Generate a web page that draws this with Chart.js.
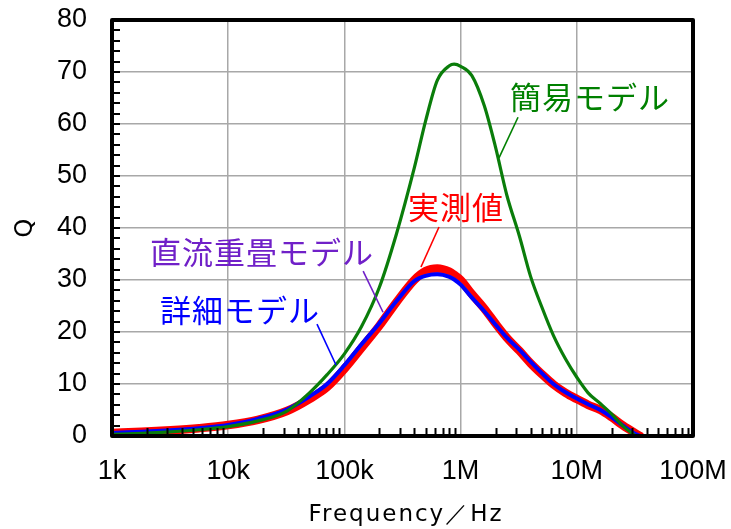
<!DOCTYPE html>
<html>
<head>
<meta charset="utf-8">
<script src="https://cdn.jsdelivr.net/npm/chart.js@4.4.1/dist/chart.umd.min.js"></script>
<style>
  html, body { margin: 0; padding: 0; background: #ffffff; }
  #wrap { width: 731px; height: 529px; }
</style>
</head>
<body>
<div id="wrap"><canvas id="chart" width="731" height="529"></canvas></div>
<script>
// Frequency sweep points (Hz)
const freqHz = [
  1000, 1800, 3200, 5600, 10000, 18000, 32000, 50000, 71000,
  100000, 140000, 200000, 280000, 400000, 500000, 630000, 800000, 880000,
  1000000, 1250000, 1600000, 2000000, 2500000, 3200000, 4000000, 5000000,
  6300000, 8000000, 10000000, 12500000, 16000000, 20000000, 25000000,
  32000000, 35000000
];

// Q factor of each curve at the frequencies above
const qMeasured = [
  0.6, 0.8, 1.1, 1.5, 2.1, 3.1, 4.8, 7.1, 9.4,
  12.9, 16.9, 21.2, 25.7, 30.0, 31.7, 32.2, 31.6, 31.0,
  30.0, 27.3, 24.5, 21.6, 18.9, 16.4, 14.0, 11.9,
  9.9, 8.3, 7.1, 6.0, 5.0, 3.6, 2.0,
  0.5, 0.0
];
const qDetailed = [
  0.6, 0.8, 1.1, 1.5, 2.1, 3.3, 5.1, 7.6, 10.0,
  13.6, 17.6, 21.7, 25.9, 29.8, 30.8, 31.1, 30.6, 30.1,
  29.1, 26.6, 24.0, 21.4, 18.9, 16.6, 14.3, 12.1,
  10.0, 8.4, 7.2, 6.1, 5.0, 3.6, 2.0,
  0.4, 0.0
];
const qDcBias = [
  0.6, 0.8, 1.1, 1.5, 2.1, 3.3, 5.1, 7.6, 10.1,
  13.7, 17.7, 21.8, 26.0, 29.9, 30.9, 31.2, 30.7, 30.2,
  29.2, 26.7, 24.1, 21.5, 18.9, 16.6, 14.3, 12.1,
  10.0, 8.4, 7.2, 6.1, 5.0, 3.6, 2.0,
  0.4, 0.0
];
const qSimple = [
  0.3, 0.5, 0.8, 1.2, 1.8, 2.9, 4.8, 8.3, 11.8,
  15.8, 21.0, 28.6, 38.8, 51.6, 60.6, 68.4, 71.2, 71.5,
  71.1, 69.3, 63.5, 55.5, 46.3, 38.5, 30.7, 24.8,
  19.3, 14.8, 11.3, 8.3, 6.2, 4.2, 1.9,
  0.0, null
];

// Axis ticks
const decadeTicks = [1e3, 1e4, 1e5, 1e6, 1e7, 1e8];
const decadeLabels = ['1k', '10k', '100k', '1M', '10M', '100M'];
const qMin = 0, qMax = 80, qStep = 10, qMinorStep = 2;

// Curve names (callouts) and where they sit, in data units
const callouts = [
  { text: '簡易モデル',     color: '#008000', textAt: [2.66e6, 65.2], line: [[3.12e6, 61.3], [2.14e6, 53.5]] },
  { text: '実測値',         color: '#ff0000', textAt: [3.52e5, 44.0], line: [[6.52e5, 40.2], [4.56e5, 32.5]] },
  { text: '直流重畳モデル', color: '#7020c8', textAt: [2.12e3, 35.4], line: [[1.45e5, 31.7], [2.15e5, 23.8]] },
  { text: '詳細モデル',     color: '#0000ff', textAt: [2.59e3, 24.2], line: [[5.81e4, 21.5], [8.47e4, 13.65]] }
];

const toPoints = (ys) => freqHz.map((f, i) => ({ x: f, y: ys[i] }));

const frame = {
  id: 'frame',
  afterDatasetsDraw(chart) {
    const { ctx, chartArea: a, scales: { x, y } } = chart;
    ctx.save();
    ctx.strokeStyle = '#000000';
    ctx.lineWidth = 2;
    ctx.beginPath();
    // minor ticks along the frequency axis (2..9 in each decade)
    for (let d = 1e3; d < 1e8; d *= 10) {
      for (let m = 2; m <= 9; m++) {
        const px = Math.round(x.getPixelForValue(d * m)) + 0.5;
        ctx.moveTo(px, a.bottom);
        ctx.lineTo(px, a.bottom - 8);
      }
    }
    // minor ticks along the Q axis
    for (let v = qMin; v <= qMax; v += qMinorStep) {
      const py = Math.round(y.getPixelForValue(v));
      ctx.moveTo(a.left, py);
      ctx.lineTo(a.left + 8, py);
    }
    ctx.stroke();
    // plot frame
    ctx.lineWidth = 4;
    ctx.lineJoin = 'round';
    ctx.strokeRect(a.left, a.top, a.right - a.left, a.bottom - a.top);
    ctx.restore();
  },
  afterDraw(chart) {
    const { ctx, chartArea: a, scales: { x, y } } = chart;
    ctx.save();
    // curve callouts
    ctx.font = '31px "Noto Sans CJK JP"';
    ctx.letterSpacing = '1px';
    ctx.textBaseline = 'middle';
    ctx.textAlign = 'left';
    callouts.forEach(c => {
      ctx.fillStyle = c.color;
      ctx.fillText(c.text, x.getPixelForValue(c.textAt[0]), y.getPixelForValue(c.textAt[1]));
      ctx.strokeStyle = c.color;
      ctx.lineWidth = 1.6;
      ctx.beginPath();
      ctx.moveTo(x.getPixelForValue(c.line[0][0]), y.getPixelForValue(c.line[0][1]));
      ctx.lineTo(x.getPixelForValue(c.line[1][0]), y.getPixelForValue(c.line[1][1]));
      ctx.stroke();
    });
    // axis titles
    ctx.fillStyle = '#000000';
    ctx.textAlign = 'center';
    ctx.textBaseline = 'alphabetic';
    ctx.font = '23px "DejaVu Sans"';
    ctx.letterSpacing = '2px';
    ctx.fillText('Frequency／Hz', 406, 521);
    ctx.letterSpacing = '0px';
    ctx.textBaseline = 'middle';
    ctx.translate(26, (a.top + a.bottom) / 2);
    ctx.rotate(-Math.PI / 2);
    ctx.font = '24px "DejaVu Sans"';
    ctx.fillText('Q', 0, 0);
    ctx.restore();
  }
};

new Chart(document.getElementById('chart'), {
  type: 'line',
  data: {
    datasets: [
      { label: '簡易モデル', data: toPoints(qSimple), borderColor: '#0a7d0a', borderWidth: 3.2 },
      { label: '詳細モデル', data: toPoints(qDetailed), borderColor: '#0000ff', borderWidth: 4 },
      { label: '直流重畳モデル', data: toPoints(qDcBias), borderColor: '#7020c8', borderWidth: 3 },
      { label: '実測値', data: toPoints(qMeasured), borderColor: '#ff0000', borderWidth: 8.5 }
    ]
  },
  options: {
    responsive: false,
    devicePixelRatio: 1,
    animation: false,
    elements: {
      point: { radius: 0 },
      line: { cubicInterpolationMode: 'monotone', fill: false, borderCapStyle: 'round', borderJoinStyle: 'round' }
    },
    layout: { padding: { left: 0, right: 38, top: 20, bottom: 0 } },
    plugins: { legend: { display: false }, tooltip: { enabled: false }, title: { display: false } },
    scales: {
      x: {
        type: 'logarithmic',
        min: 1e3,
        max: 1e8,
        afterBuildTicks(scale) { scale.ticks = decadeTicks.map(v => ({ value: v })); },
        afterFit(scale) {
          scale.height = 93;
          scale.paddingLeft = 0; scale.paddingRight = 0;
          scale.paddingTop = 0; scale.paddingBottom = 0;
        },
        grid: { color: '#a8a8a8', lineWidth: 1.5, drawTicks: false },
        border: { display: false },
        ticks: {
          autoSkip: false,
          maxRotation: 0,
          padding: 19,
          color: '#000000',
          font: { family: '"Liberation Sans", Arial', size: 27 },
          callback(value) {
            const i = decadeTicks.indexOf(value);
            return i >= 0 ? decadeLabels[i] : '';
          }
        }
      },
      y: {
        min: qMin,
        max: qMax,
        afterFit(scale) {
          scale.width = 112;
          scale.paddingLeft = 0; scale.paddingRight = 0;
          scale.paddingTop = 0; scale.paddingBottom = 0;
        },
        grid: { color: '#a8a8a8', lineWidth: 1.5, drawTicks: false },
        border: { display: false },
        ticks: {
          stepSize: qStep,
          padding: 25,
          color: '#000000',
          font: { family: '"Liberation Sans", Arial', size: 27 }
        }
      }
    }
  },
  plugins: [frame]
});
</script>
</body>
</html>
